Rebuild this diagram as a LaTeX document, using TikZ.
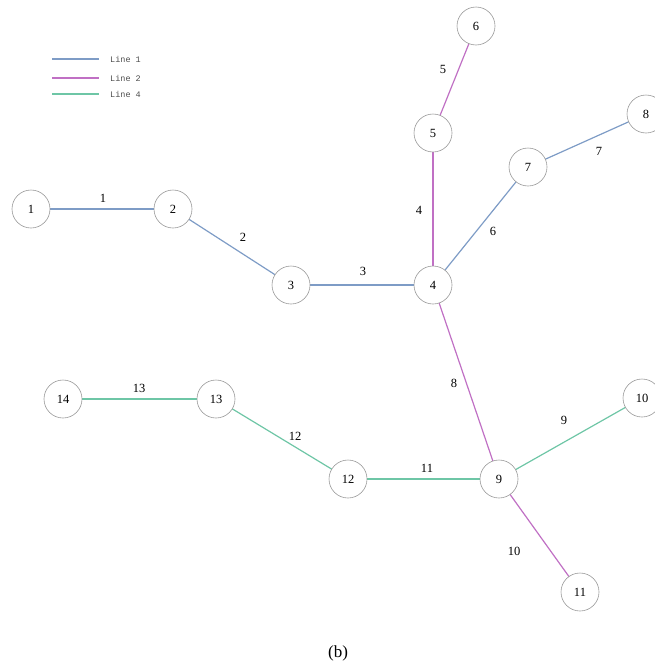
\documentclass[tikz,border=0pt]{standalone}
\usepackage{fontspec}
\setmainfont{Liberation Serif}
\newfontfamily\legfont{Liberation Mono}
\definecolor{lineA}{HTML}{7E9CC6}
\definecolor{lineB}{HTML}{C070C4}
\definecolor{lineD}{HTML}{6EC6A6}
\definecolor{ringc}{HTML}{9A9A9A}
\tikzset{
  bus/.style={circle, draw=ringc, line width=0.6pt, minimum size=38pt, inner sep=0pt, font=\fontsize{12.5}{14}\selectfont, fill=white},
  elab/.style={font=\fontsize{12.5}{14}\selectfont, inner sep=0pt},
  l1/.style={draw=lineA, line width=1.2pt},
  l2/.style={draw=lineB, line width=1.2pt},
  l4/.style={draw=lineD, line width=1.2pt},
  legtext/.style={font=\legfont\fontsize{8.5}{10}\selectfont, text=black!70, anchor=west, inner sep=0pt}
}
\begin{document}
\begin{tikzpicture}[x=1pt,y=-1pt]
\useasboundingbox (0,0) rectangle (654,672);
% legend
\coordinate (a1) at (52,59); \coordinate (b1) at (99,59);
\coordinate (a2) at (52,78); \coordinate (b2) at (99,78);
\coordinate (a3) at (52,94); \coordinate (b3) at (99,94);
\draw[l1] (a1) -- (b1);
\draw[l2] (a2) -- (b2);
\draw[l4] (a3) -- (b3);
\node[legtext] (t1) at (110,59) {Line 1};
\node[legtext] (t2) at (110,78) {Line 2};
\node[legtext] (t3) at (110,94) {Line 4};
% bus positions
\coordinate (c1) at (31,209);
\coordinate (c2) at (173,209);
\coordinate (c3) at (291,285);
\coordinate (c4) at (433,285);
\coordinate (c5) at (433,133);
\coordinate (c6) at (476,26);
\coordinate (c7) at (528,167);
\coordinate (c8) at (646,114);
\coordinate (c9) at (499,479);
\coordinate (c10) at (642,398);
\coordinate (c11) at (580,592);
\coordinate (c12) at (348,479);
\coordinate (c13) at (216,399);
\coordinate (c14) at (63,399);
% edges (under nodes)
\draw[l1] (c1) -- (c2);
\draw[l1] (c2) -- (c3);
\draw[l1] (c3) -- (c4);
\draw[l1] (c4) -- (c7);
\draw[l1] (c7) -- (c8);
\draw[l2] (c4) -- (c5);
\draw[l2] (c5) -- (c6);
\draw[l2] (c4) -- (c9);
\draw[l2] (c9) -- (c11);
\draw[l4] (c9) -- (c10);
\draw[l4] (c9) -- (c12);
\draw[l4] (c12) -- (c13);
\draw[l4] (c13) -- (c14);
% nodes
\node[bus] (n1) at (c1) {1};
\node[bus] (n2) at (c2) {2};
\node[bus] (n3) at (c3) {3};
\node[bus] (n4) at (c4) {4};
\node[bus] (n5) at (c5) {5};
\node[bus] (n6) at (c6) {6};
\node[bus] (n7) at (c7) {7};
\node[bus] (n8) at (c8) {8};
\node[bus] (n9) at (c9) {9};
\node[bus] (n10) at (c10) {10};
\node[bus] (n11) at (c11) {11};
\node[bus] (n12) at (c12) {12};
\node[bus] (n13) at (c13) {13};
\node[bus] (n14) at (c14) {14};
% edge labels
\node[elab] (e1) at (103,198) {1};
\node[elab] (e2) at (243,237) {2};
\node[elab] (e3) at (363,271) {3};
\node[elab] (e4) at (419,210) {4};
\node[elab] (e5) at (443,69) {5};
\node[elab] (e6) at (493,231) {6};
\node[elab] (e7) at (599,151) {7};
\node[elab] (e8) at (454,383) {8};
\node[elab] (e9) at (564,420) {9};
\node[elab] (e10) at (514,551) {10};
\node[elab] (e11) at (427,468) {11};
\node[elab] (e12) at (295,436) {12};
\node[elab] (e13) at (139,388) {13};
% caption
\node[font=\fontsize{17}{19}\selectfont, inner sep=0pt] (cap) at (338,653) {(b)};
\end{tikzpicture}
\end{document}
